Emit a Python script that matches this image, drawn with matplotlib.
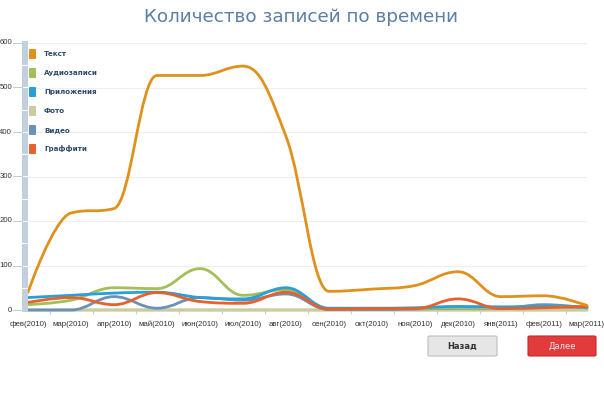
import matplotlib
matplotlib.use("Agg")
import matplotlib.pyplot as plt
from matplotlib.path import Path
from matplotlib.patches import PathPatch, Rectangle, FancyBboxPatch

months = ["фев(2010)", "мар(2010)", "апр(2010)", "май(2010)", "июн(2010)",
          "июл(2010)", "авг(2010)", "сен(2010)", "окт(2010)", "ноя(2010)",
          "дек(2010)", "янв(2011)", "фев(2011)", "мар(2011)"]

text_posts = [40, 218, 228, 527, 527, 548, 390, 42, 47, 55, 86, 30, 32, 10]
audio = [12, 22, 50, 48, 93, 33, 46, 3, 3, 3, 5, 5, 8, 5]
apps = [28, 33, 38, 40, 28, 25, 50, 4, 4, 5, 8, 7, 8, 6]
photo = [0, 0, 0, 0, 0, 0, 0, 0, 0, 0, 0, 0, 0, 0]
video = [0, 0, 30, 4, 28, 22, 36, 1, 1, 2, 4, 4, 12, 5]
graffiti = [17, 28, 12, 39, 19, 15, 40, 2, 3, 3, 25, 3, 5, 8]

series_names = ["Текст", "Аудиозаписи", "Приложения", "Фото", "Видео", "Граффити"]
series_vals = [text_posts, audio, apps, photo, video, graffiti]
colors = ["#e0911c", "#a2bf58", "#2a9ed8", "#cbcb9f", "#6a91b6", "#e8612c"]
draw_order = [3, 4, 1, 2, 5, 0]

y_ticks = [0, 100, 200, 300, 400, 500, 600]


def spline_path(xs, ys, smoothing=1.5):
    # highcharts-like spline through the points
    n = len(xs)
    left = [(xs[i], ys[i]) for i in range(n)]
    right = [(xs[i], ys[i]) for i in range(n)]
    den = smoothing + 1
    for i in range(1, n - 1):
        x, y = xs[i], ys[i]
        lx, ly = xs[i - 1], ys[i - 1]
        nx, ny = xs[i + 1], ys[i + 1]
        lcx = (smoothing * x + lx) / den
        lcy = (smoothing * y + ly) / den
        rcx = (smoothing * x + nx) / den
        rcy = (smoothing * y + ny) / den
        corr = ((rcy - lcy) * (rcx - x)) / (rcx - lcx) + y - rcy
        lcy += corr
        rcy += corr
        if lcy > ly and lcy > y:
            lcy = max(ly, y)
            rcy = 2 * y - lcy
        elif lcy < ly and lcy < y:
            lcy = min(ly, y)
            rcy = 2 * y - lcy
        if rcy > ny and rcy > y:
            rcy = max(ny, y)
            lcy = 2 * y - rcy
        elif rcy < ny and rcy < y:
            rcy = min(ny, y)
            lcy = 2 * y - rcy
        left[i] = (lcx, lcy)
        right[i] = (rcx, rcy)
    verts = [(xs[0], ys[0])]
    codes = [Path.MOVETO]
    for i in range(n - 1):
        verts += [right[i], left[i + 1], (xs[i + 1], ys[i + 1])]
        codes += [Path.CURVE4] * 3
    return Path(verts, codes)


W, H = 604, 393
fig = plt.figure(figsize=(W / 100, H / 100), dpi=100)
fig.patch.set_facecolor("white")

ax = fig.add_axes([28 / W, 1 - 310 / H, (587 - 28) / W, (310 - 43) / H])
ax.set_xlim(0, len(months) - 1)
ax.set_ylim(0, 600)
for s in ax.spines.values():
    s.set_visible(False)

for yv in y_ticks[1:]:
    ax.axhline(yv, color="#eeeeee", lw=0.8, zorder=0)

xs = list(range(len(months)))
for idx in draw_order:
    p = spline_path(xs, series_vals[idx])
    ax.add_patch(PathPatch(p, facecolor="none", edgecolor=colors[idx],
                           lw=2.0 if idx != 3 else 2.4, clip_on=False,
                           capstyle="round", joinstyle="round", zorder=2 + draw_order.index(idx)))

# month labels on a common baseline
for x, m in zip(xs, months):
    fig.text((28 + x * (587 - 28) / (len(months) - 1)) / W, 1 - 326 / H, m,
             fontsize=5.7, family="Liberation Sans", color="#333333",
             ha="center", va="baseline")
ax.set_xticks([x + 0.5 for x in xs[:-1]])
ax.set_xticklabels([])
ax.tick_params(axis="x", length=3, color="#c0d0e0", width=0.8)
ax.set_yticks([])

# left band with y labels
band = fig.add_axes([22 / W, 1 - 312 / H, 6 / W, (312 - 41) / H])
band.set_xlim(0, 1)
band.set_ylim(-600 * 2 / 267, 600 + 600 * 2 / 267)
band.axis("off")
band.add_patch(Rectangle((0, band.get_ylim()[0]), 1, band.get_ylim()[1] - band.get_ylim()[0],
                         color="#c2d0dd", lw=0))
for yv in range(50, 600, 50):
    band.plot([0, 1], [yv, yv], color="white", lw=0.8)
for yv in y_ticks:
    band.plot([-1.45, 0], [yv, yv], color="#c2d0dd", lw=0.8, clip_on=False)
    band.text(-1.65, yv, str(yv), fontsize=5.6, family="Liberation Sans",
              color="#333333", ha="right", va="center")

# legend
for k, name in enumerate(series_names):
    yc = 54 + 19 * k
    fig.patches.append(FancyBboxPatch((29 / W, 1 - (yc + 5) / H), 7 / W, 10 / H,
                                      boxstyle="round,pad=0,rounding_size=0.002",
                                      transform=fig.transFigure, color=colors[k], lw=0))
    fig.text(44 / W, 1 - yc / H, name, fontsize=5.1, fontweight="bold",
             color="#2e4a6b", ha="left", va="center")

fig.text(301 / W, 1 - 17 / H, "Количество записей по времени", fontsize=13.2,
         color="#5b7ea6", ha="center", va="center")

# buttons
fig.patches.append(FancyBboxPatch((428 / W, 1 - 356 / H), 69 / W, 20 / H,
                                  boxstyle="round,pad=0,rounding_size=0.003",
                                  transform=fig.transFigure, facecolor="#e6e6e6",
                                  edgecolor="#bdbdbd", lw=0.8))
fig.text(462.5 / W, 1 - 346 / H, "Назад", fontsize=6, fontweight="bold",
         color="#333333", ha="center", va="center")
fig.patches.append(FancyBboxPatch((528 / W, 1 - 356 / H), 68 / W, 20 / H,
                                  boxstyle="round,pad=0,rounding_size=0.003",
                                  transform=fig.transFigure, facecolor="#e23b3b",
                                  edgecolor="#c42a2a", lw=0.8))
fig.text(562 / W, 1 - 346 / H, "Далее", fontsize=6, color="#fde8e8",
         ha="center", va="center")

fig.savefig("out.png", dpi=100, facecolor="white")
